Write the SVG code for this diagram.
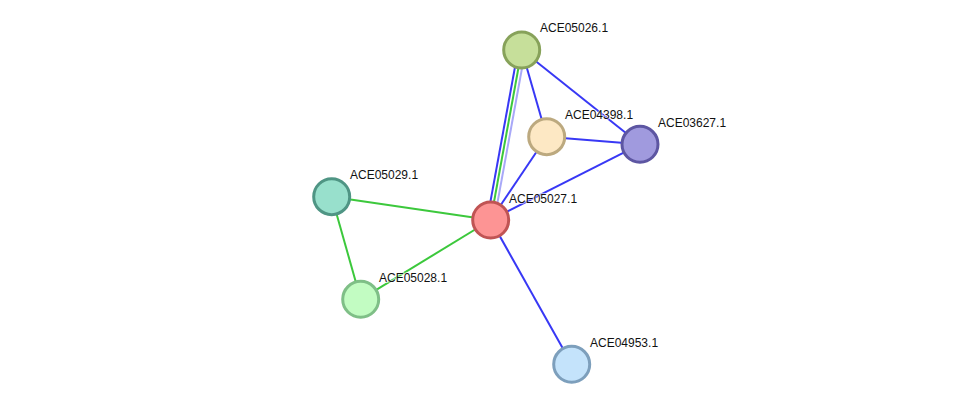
<svg xmlns="http://www.w3.org/2000/svg" width="976" height="410" viewBox="0 0 976 410">
<style>
.e{stroke-width:2;fill:none}
.b{stroke:#3838f5}
.g{stroke:#3cc83c}
.h{stroke:#a8a8f8}
.n{stroke-width:3}
.t{font-family:"Liberation Sans",Arial,sans-serif;font-size:12px;fill:#111;stroke:#fff;stroke-width:2;stroke-opacity:0.6;paint-order:stroke}
</style>
<rect width="976" height="410" fill="#fff"/>
<g id="connectors">
<line class="e b" x1="518.2" y1="49.4" x2="487.2" y2="219.4"/>
<line class="e g" x1="521.7" y1="50" x2="490.7" y2="220"/>
<line class="e h" x1="525.2" y1="50.6" x2="494.2" y2="220.6"/>
<line class="e b" x1="521.7" y1="50" x2="546.7" y2="136.7"/>
<line class="e b" x1="521.7" y1="50" x2="640" y2="144.3"/>
<line class="e b" x1="546.7" y1="136.7" x2="640" y2="144.3"/>
<line class="e b" x1="546.7" y1="136.7" x2="490.7" y2="220"/>
<line class="e b" x1="640" y1="144.3" x2="490.7" y2="220"/>
<line class="e b" x1="490.7" y1="220" x2="571.7" y2="364.3"/>
<line class="e g" x1="331.7" y1="196.7" x2="490.7" y2="220"/>
<line class="e g" x1="331.7" y1="196.7" x2="360.7" y2="299.3"/>
<line class="e g" x1="360.7" y1="299.3" x2="490.7" y2="220"/>
</g>
<g id="ACE05026.1">
<circle class="n" cx="521.7" cy="50" r="18" fill="#c6df9a" stroke="#87a25a"/>
<text class="t" x="540" y="32">ACE05026.1</text>
</g>
<g id="ACE04398.1">
<circle class="n" cx="546.7" cy="136.7" r="18" fill="#fde8c4" stroke="#bca97f"/>
<text class="t" x="565" y="119">ACE04398.1</text>
</g>
<g id="ACE03627.1">
<circle class="n" cx="640" cy="144.3" r="18" fill="#a09ade" stroke="#5d56a2"/>
<text class="t" x="658" y="127">ACE03627.1</text>
</g>
<g id="ACE05029.1">
<circle class="n" cx="331.7" cy="196.7" r="18" fill="#98e0cc" stroke="#4f9584"/>
<text class="t" x="350" y="179">ACE05029.1</text>
</g>
<g id="ACE05027.1">
<circle class="n" cx="490.7" cy="220" r="18" fill="#fd9494" stroke="#c05454"/>
<text class="t" x="509" y="203">ACE05027.1</text>
</g>
<g id="ACE05028.1">
<circle class="n" cx="360.7" cy="299.3" r="18" fill="#c2fcc2" stroke="#7fbf87"/>
<text class="t" x="379" y="282">ACE05028.1</text>
</g>
<g id="ACE04953.1">
<circle class="n" cx="571.7" cy="364.3" r="18" fill="#c4e3fb" stroke="#7d9fbc"/>
<text class="t" x="590" y="347">ACE04953.1</text>
</g>
</svg>
